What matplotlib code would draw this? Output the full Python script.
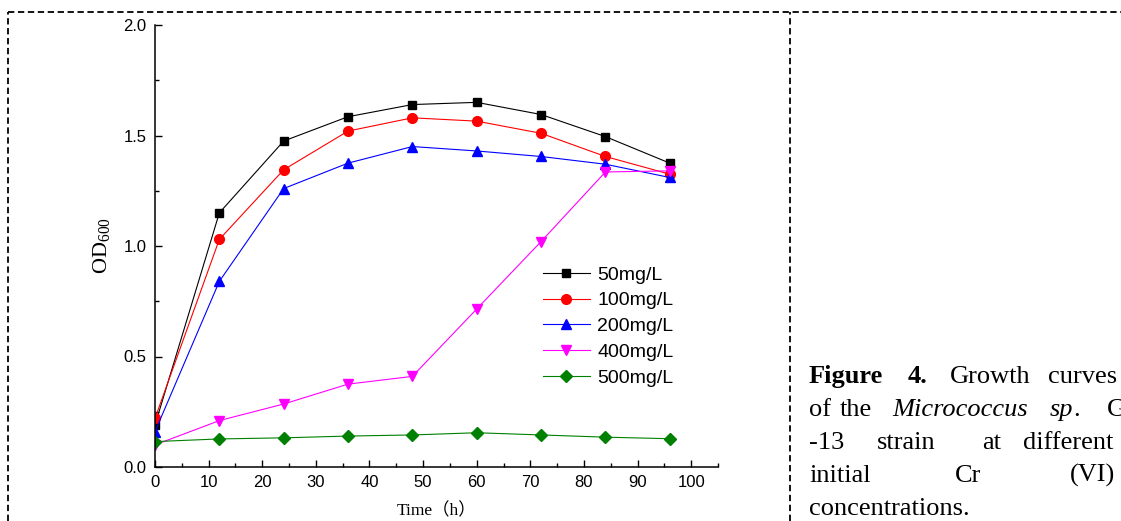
import matplotlib
matplotlib.use("Agg")
import matplotlib.pyplot as plt
from matplotlib.lines import Line2D
from matplotlib.ticker import MultipleLocator, FormatStrFormatter

plt.rcParams['font.family'] = ['Liberation Sans', 'DejaVu Sans']
plt.rcParams['mathtext.fontset'] = 'custom'
plt.rcParams['mathtext.rm'] = 'Liberation Serif'
plt.rcParams['mathtext.it'] = 'Liberation Serif:italic'

# growth data, OD600 vs time
time_h = [0, 12, 24, 36, 48, 60, 72, 84, 96]
od_50 = [0.19, 1.15, 1.475, 1.585, 1.64, 1.65, 1.595, 1.495, 1.375]
od_100 = [0.22, 1.03, 1.345, 1.52, 1.58, 1.565, 1.51, 1.405, 1.325]
od_200 = [0.16, 0.84, 1.26, 1.375, 1.45, 1.43, 1.405, 1.37, 1.31]
od_400 = [0.10, 0.21, 0.285, 0.375, 0.41, 0.715, 1.02, 1.335, 1.34]
od_500 = [0.115, 0.127, 0.132, 0.14, 0.145, 0.155, 0.145, 0.135, 0.128]

labels = ['50mg/L', '100mg/L', '200mg/L', '400mg/L', '500mg/L']
series = [od_50, od_100, od_200, od_400, od_500]
colors = ['black', '#ff0000', '#0000ff', '#ff00ff', '#008000']
markers = ['s', 'o', '^', 'v', 'D']
msizes = [6, 7, 7.5, 7.5, 6.5]

fig = plt.figure(figsize=(11.21, 5.21), dpi=100)
ax = fig.add_axes([155 / 1121, 1 - 467 / 521, (718 - 155) / 1121, (467 - 25) / 521])

for ys, lab, c, m, ms in zip(series, labels, colors, markers, msizes):
    ax.plot(time_h, ys, color=c, marker=m, markersize=ms, lw=0.8, label=lab)

ax.set_xlim(0, 105)
ax.set_ylim(0, 2.0)
ax.xaxis.set_major_locator(MultipleLocator(10))
ax.xaxis.set_minor_locator(MultipleLocator(5))
ax.yaxis.set_major_locator(MultipleLocator(0.5))
ax.yaxis.set_minor_locator(MultipleLocator(0.25))
ax.yaxis.set_major_formatter(FormatStrFormatter('%.1f'))
ax.tick_params(which='both', direction='in', labelsize=12, width=1)
ax.tick_params(which='major', length=5, pad=6)
ax.tick_params(which='minor', length=3)
ax.spines['top'].set_visible(False)
ax.spines['right'].set_visible(False)
ax.spines['left'].set_linewidth(1.1)
ax.spines['bottom'].set_linewidth(1.1)

ax.set_xlabel('Time（h）', family=['Liberation Serif', 'Noto Sans CJK SC'], fontsize=12.5, labelpad=9)
ax.set_ylabel(r'$\mathrm{OD}_{\mathit{600}}$', fontsize=16, labelpad=8)

leg = ax.legend(loc='upper left', bbox_to_anchor=((543 - 155) / 563, 1 - (266 - 25) / 442),
                frameon=False, fontsize=14, handlelength=2.4, handletextpad=0.4,
                labelspacing=0.42, borderpad=0, borderaxespad=0)

# dashed layout frame
W, H = 1121, 521
dash = (0, (3.5, 2))
fig.add_artist(Line2D([8 / W, 8 / W], [0, 1 - 12 / H], color='black', lw=1.3, ls=dash))
fig.add_artist(Line2D([8 / W, 1], [1 - 12 / H, 1 - 12 / H], color='black', lw=1.3, ls=dash))
fig.add_artist(Line2D([790 / W, 790 / W], [0, 1 - 12 / H], color='black', lw=1.3, ls=dash))

# caption, justified by hand
serif = 'Liberation Serif'
fs = 19
cap = [
    (383, [(809, 'Figure', 'bold', 'normal'), (908, '4.', 'bold', 'normal'),
           (950, 'Growth', 'normal', 'normal'), (1048, 'curves', 'normal', 'normal')]),
    (416, [(809, 'of', 'normal', 'normal'), (840, 'the', 'normal', 'normal'),
           (892, 'Micrococcus', 'normal', 'italic'), (1050, 'sp', 'normal', 'italic'),
           (1073, '.', 'normal', 'normal'), (1107, 'G', 'normal', 'normal')]),
    (449, [(809, '-13', 'normal', 'normal'), (877, 'strain', 'normal', 'normal'),
           (982, 'at', 'normal', 'normal'), (1023, 'different', 'normal', 'normal')]),
    (482, [(809, 'initial', 'normal', 'normal'), (955, 'Cr', 'normal', 'normal'),
           (1070, '(VI)', 'normal', 'normal')]),
    (515, [(809, 'concentrations.', 'normal', 'normal')]),
]
for yb, words in cap:
    for xp, w, wt, st in words:
        fig.text(xp / W, 1 - yb / H, w, family=serif, fontsize=fs, fontweight=wt,
                 fontstyle=st, ha='left', va='baseline')

fig.savefig('out.png', dpi=100)
